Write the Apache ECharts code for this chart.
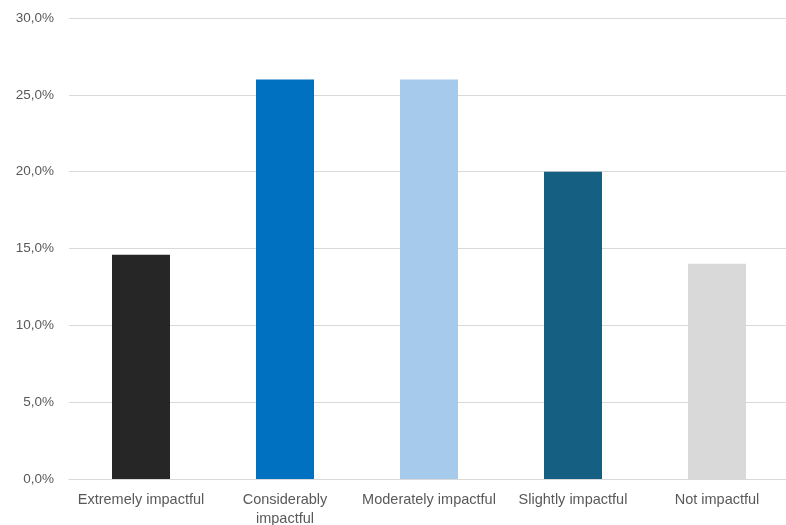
<!DOCTYPE html>
<html>
<head>
<meta charset="utf-8">
<script src="https://cdn.jsdelivr.net/npm/echarts@6/dist/echarts.min.js"></script>
<style>
  html, body { margin: 0; padding: 0; background: #ffffff; }
  #frame { width: 786px; height: 525px; overflow: hidden; position: relative; }
  #chart { width: 790px; height: 525px; position: absolute; left: 0; top: 0; }
</style>
</head>
<body>
<div id="frame"><div id="chart"></div></div>
<script>
// Share of respondents by perceived impact (percent)
const categories = ['Extremely impactful', 'Considerably impactful', 'Moderately impactful', 'Slightly impactful', 'Not impactful'];
const tickLabels = ['Extremely impactful', 'Considerably\nimpactful', 'Moderately impactful', 'Slightly impactful', 'Not impactful'];
const values = [14.6, 26.0, 26.0, 20.0, 14.0];
const barColors = ['#262626', '#0070C0', '#A6CAEC', '#156082', '#D9D9D9'];

const chart = echarts.init(document.getElementById('chart'), null, { renderer: 'canvas' });

chart.setOption({
  animation: false,
  backgroundColor: '#ffffff',
  grid: { left: 69, top: 18, width: 720, height: 461, containLabel: false, outerBoundsMode: 'none' },
  xAxis: {
    type: 'category',
    data: categories,
    axisLine: { show: true, lineStyle: { color: '#D9D9D9', width: 1 } },
    axisTick: { show: false },
    axisLabel: {
      color: '#595959',
      fontFamily: 'Liberation Sans, Arial, sans-serif',
      fontSize: 14.5,
      margin: 11,
      lineHeight: 19,
      interval: 0,
      formatter: (v, i) => tickLabels[i]
    }
  },
  yAxis: {
    type: 'value',
    min: 0,
    max: 30,
    interval: 5,
    axisLine: { show: false },
    axisTick: { show: false },
    splitLine: { lineStyle: { color: '#D9D9D9', width: 1 } },
    axisLabel: {
      color: '#595959',
      fontFamily: 'Liberation Sans, Arial, sans-serif',
      fontSize: 13.5,
      margin: 15,
      formatter: v => v.toFixed(1).replace('.', ',') + '%'
    }
  },
  series: [{
    type: 'bar',
    data: values.map((v, i) => ({ value: v, itemStyle: { color: barColors[i] } })),
    barWidth: 58
  }]
});
</script>
</body>
</html>
